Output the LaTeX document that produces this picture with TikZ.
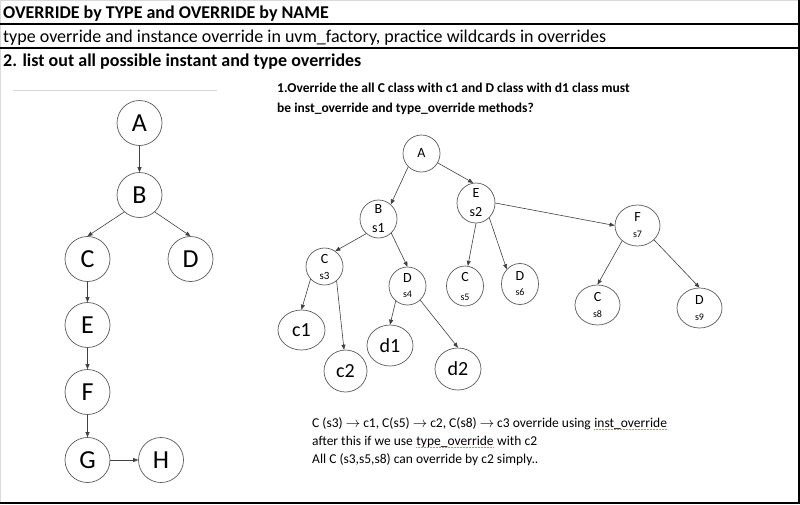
\documentclass[tikz,border=0pt]{standalone}
\usepackage{fontspec}
\setmainfont{Carlito}
\usepackage{tikz}
\usetikzlibrary{arrows.meta, positioning, shapes.geometric}
\usepackage{xcolor}

\definecolor{rulegray}{HTML}{D9D9D9}
\definecolor{edgegray}{HTML}{404040}
\definecolor{ringgray}{HTML}{5A5A5A}
\definecolor{spellred}{HTML}{E08080}

\newcommand{\spellmark}[1]{\tikz[baseline=(w.base)]{\node[inner sep=0pt] (w) {#1};
  \draw[spellred, densely dotted, line width=0.5pt] ([yshift=-2pt]w.base west) -- ([yshift=-2pt]w.base east);}}
\newcommand{\sublab}{\fontsize{10}{11}\selectfont}

\tikzset{
  headtext/.style={anchor=base west, inner sep=0pt, font=\fontsize{18}{20}\selectfont},
  bodytext/.style={anchor=base west, inner sep=0pt, font=\fontsize{13.5}{16}\selectfont},
  bignode/.style={circle, draw=ringgray, line width=0.7pt, minimum size=45pt,
                  inner sep=0pt, font=\fontsize{26}{26}\selectfont},
  treenode/.style={ellipse, draw=ringgray, line width=0.7pt, inner sep=-3pt,
                   align=center, font=\fontsize{14}{15}\selectfont},
  leafnode/.style={treenode, font=\fontsize{20}{20}\selectfont},
  link/.style={-{Triangle[length=5pt,width=4pt]}, draw=edgegray, line width=0.6pt}
}

\begin{document}
\begin{tikzpicture}[x=1pt, y=-1pt]
  \useasboundingbox (0,0) rectangle (800,504);

  % frame and header rows
  \draw[rulegray, line width=1pt] (0,0.5) -- (798,0.5);
  \draw[rulegray, line width=1pt] (0.5,0) -- (0.5,503);
  \draw[black, line width=1.3pt] (0,24) -- (799,24);
  \draw[black, line width=1.3pt] (0,48) -- (799,48);
  \draw[black, line width=1.5pt] (799,0) -- (799,503);
  \draw[black, line width=1.5pt] (0,503) -- (800,503);
  \draw[rulegray, line width=1pt] (13,90) -- (217,90);

  \node[headtext, font=\bfseries\fontsize{18}{20}\selectfont] (title) at (3,18)
    {OVERRIDE by TYPE and OVERRIDE by NAME};
  \node[headtext] (subtitle) at (3,42)
    {type override and instance override in uvm\_factory, practice wildcards in overrides};
  \node[headtext, font=\bfseries\fontsize{18}{20}\selectfont] (task) at (3,66)
    {2. list out all possible instant and type overrides};

  % left tree
  \node[bignode] (lA) at (139.5,123) {A};
  \node[bignode] (lB) at (139.5,195) {B};
  \node[bignode] (lC) at (87.5,259) {C};
  \node[bignode] (lD) at (190.5,259) {D};
  \node[bignode] (lE) at (87.5,325) {E};
  \node[bignode] (lF) at (87.5,392) {F};
  \node[bignode] (lG) at (87.5,460) {G};
  \node[bignode] (lH) at (161,460) {H};

  \draw[link] (lA.south) -- (lB.north);
  \draw[link] (lB.-132) -- (lC.north);
  \draw[link] (lB.-48) -- (lD.north);
  \draw[link] (lC.south) -- (lE.north);
  \draw[link] (lE.south) -- (lF.north);
  \draw[link] (lF.south) -- (lG.north);
  \draw[link] (lG.east) -- (lH.west);

  % question
  \node[bodytext, font=\bfseries\fontsize{13.5}{16}\selectfont] (question1) at (277,92)
    {1.Override the all C class with c1 and D class with d1 class must};
  \node[bodytext, font=\bfseries\fontsize{13.5}{16}\selectfont] (question2) at (277,112)
    {be inst\_override and type\_override methods?};

  % right tree
  \node[treenode, minimum width=37pt, minimum height=37pt] (rA) at (421.5,153.5) {A};
  \node[treenode, minimum width=37pt, minimum height=38pt] (rB) at (378.5,219) {B\\[4pt]s1};
  \node[treenode, minimum width=38pt, minimum height=40pt] (rE) at (476,203) {E\\[4pt]s2};
  \node[treenode, minimum width=37pt, minimum height=37pt] (rC3) at (324.5,266.5)
    {C\\[1pt]{\fontsize{11}{12}\selectfont s3}};
  \node[treenode, minimum width=37pt, minimum height=38pt] (rD4) at (407.5,286)
    {D\\[0pt]{\sublab s4}};
  \node[treenode, minimum width=37pt, minimum height=40pt] (rC5) at (465,286)
    {C\\[4pt]{\sublab s5}};
  \node[treenode, minimum width=37pt, minimum height=41pt] (rD6) at (520,284)
    {D\\[0pt]{\sublab s6}};
  \node[treenode, minimum width=45pt, minimum height=41pt] (rF) at (637.5,225.5)
    {F\\[1pt]{\sublab s7}};
  \node[treenode, minimum width=45pt, minimum height=40pt] (rC8) at (597.5,305)
    {C\\[1pt]{\sublab s8}};
  \node[treenode, minimum width=45pt, minimum height=40pt] (rD9) at (699.5,308)
    {D\\[1pt]{\sublab s9}};
  \node[leafnode, minimum width=47pt, minimum height=40pt] (rc1) at (301.5,330) {c1};
  \node[leafnode, minimum width=43pt, minimum height=42pt] (rc2) at (345.5,371) {c2};
  \node[leafnode, minimum width=46pt, minimum height=41pt] (rd1) at (390,345.5) {d1};
  \node[leafnode, minimum width=46pt, minimum height=42pt] (rd2) at (458,369) {d2};

  \draw[link] (rA.-135) -- (rB.50);
  \draw[link] (rA.-30) -- (rE.98);
  \draw[link] (rB.-130) -- (rC3.55);
  \draw[link] (rB.-48) -- (rD4.north);
  \draw[link] (rC3.-138) -- (rc1.north);
  \draw[link] (rC3.-50) -- (rc2.94);
  \draw[link] (rD4.-128) -- (rd1.north);
  \draw[link] (rD4.-48) -- (rd2.north);
  \draw[link] (rE.south) -- (rC5.82);
  \draw[link] (rE.-48) -- (rD6.132);
  \draw[link] (rE.east) -- (rF.west);
  \draw[link] (rF.-135) -- (rC8.north);
  \draw[link] (rF.-41) -- (rD9.north);

  % answer
  \node[bodytext] (answer1) at (312,427)
    {C (s3) $\rightarrow$ c1, C(s5) $\rightarrow$ c2, C(s8) $\rightarrow$ c3 override using \spellmark{inst\_override}};
  \node[bodytext] (answer2) at (312,445)
    {after this if we use \spellmark{type\_override} with c2};
  \node[bodytext] (answer3) at (312,463)
    {All C (s3,s5,s8) can override by c2 simply..};
\end{tikzpicture}
\end{document}
